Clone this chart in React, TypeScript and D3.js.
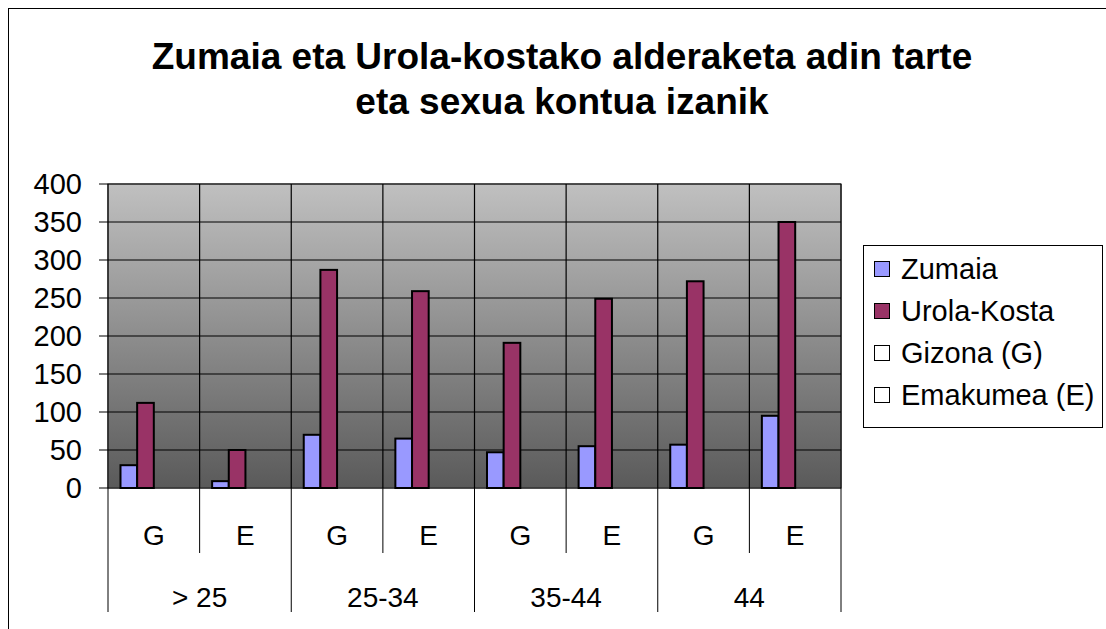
import React, { useRef, useEffect } from 'react';
import * as d3 from 'd3';

const sexes = ['G', 'E', 'G', 'E', 'G', 'E', 'G', 'E'];
const ageGroups = ['> 25', '25-34', '35-44', '44'];
const zumaia = [30, 9, 70, 65, 47, 55, 57, 95];
const urola = [112, 50, 287, 259, 191, 249, 272, 350];
const seriesNames = ['Zumaia', 'Urola-Kosta', 'Gizona (G)', 'Emakumea (E)'];
const seriesColors = ['#9999FF', '#993366', '#FFFFFF', '#FFFFFF'];
const yTicks = [0, 50, 100, 150, 200, 250, 300, 350, 400];

const App = () => {
  const ref = useRef(null);

  const left = 108, right = 841, top = 184, bottom = 488;

  useEffect(() => {
    const svg = d3.select(ref.current);
    svg.selectAll('*').remove();

    const defs = svg.append('defs');
    const grad = defs.append('linearGradient')
      .attr('id', 'bg').attr('x1', 0).attr('y1', 0).attr('x2', 0).attr('y2', 1);
    grad.append('stop').attr('offset', '0%').attr('stop-color', '#c0c0c0');
    grad.append('stop').attr('offset', '100%').attr('stop-color', '#5a5a5a');

    // chart border (only top/left visible)
    svg.append('rect')
      .attr('x', 8.5).attr('y', 8.5).attr('width', 1120).attr('height', 640)
      .attr('fill', 'white').attr('stroke', '#000');

    const idx = d3.range(sexes.length);
    const x = d3.scaleBand().domain(idx.map(String)).range([left, right]);
    const inner = d3.scaleBand().domain(seriesNames).range([0, x.bandwidth()])
      .paddingOuter(0.75);
    const y = d3.scaleLinear().domain([0, 400]).range([bottom, top]);

    // plot area
    svg.append('rect')
      .attr('x', left).attr('y', top).attr('width', right - left).attr('height', bottom - top)
      .attr('fill', 'url(#bg)').attr('stroke', '#808080').attr('stroke-width', 1.5);

    // horizontal gridlines
    svg.append('g').selectAll('line').data(yTicks.slice(1)).enter().append('line')
      .attr('x1', left).attr('x2', right)
      .attr('y1', d => y(d)).attr('y2', d => y(d))
      .attr('stroke', '#000').attr('stroke-width', 1.2);

    // vertical gridlines
    svg.append('g').selectAll('line').data(idx.slice(1)).enter().append('line')
      .attr('x1', d => x(String(d))).attr('x2', d => x(String(d)))
      .attr('y1', top).attr('y2', bottom)
      .attr('stroke', '#000').attr('stroke-width', 1.2);

    svg.append('line').attr('x1', right).attr('x2', right).attr('y1', top).attr('y2', bottom)
      .attr('stroke', '#000').attr('stroke-width', 1.2);

    // bars
    const values = [zumaia, urola];
    values.forEach((vals, s) => {
      svg.append('g').selectAll('rect').data(vals).enter().append('rect')
        .attr('x', (d, i) => x(String(i)) + inner(seriesNames[s]))
        .attr('width', inner.bandwidth())
        .attr('y', d => y(d))
        .attr('height', d => bottom - y(d))
        .attr('fill', seriesColors[s])
        .attr('stroke', '#000').attr('stroke-width', 2);
    });

    // y axis
    svg.append('line').attr('x1', left).attr('x2', left).attr('y1', top).attr('y2', bottom)
      .attr('stroke', '#000').attr('stroke-width', 1.2);
    const ya = svg.append('g');
    ya.selectAll('line').data(yTicks).enter().append('line')
      .attr('x1', left - 9).attr('x2', left)
      .attr('y1', d => y(d)).attr('y2', d => y(d))
      .attr('stroke', '#000');
    ya.selectAll('text').data(yTicks).enter().append('text')
      .attr('x', 82).attr('y', d => y(d)).attr('dy', '0.36em')
      .attr('text-anchor', 'end')
      .style('font-family', '"Liberation Sans", Arial, sans-serif').style('font-size', '29px')
      .text(d => d);

    // x axis
    svg.append('line').attr('x1', left).attr('x2', right).attr('y1', bottom).attr('y2', bottom)
      .attr('stroke', '#000').attr('stroke-width', 1.2);
    const xa = svg.append('g');
    xa.selectAll('line.inner').data(idx.filter(i => i % 2 === 1)).enter().append('line')
      .attr('x1', d => x(String(d))).attr('x2', d => x(String(d)))
      .attr('y1', bottom).attr('y2', 553).attr('stroke', '#000');
    const groupEdges = d3.range(ageGroups.length + 1).map(g => g * 2);
    xa.selectAll('line.outer').data(groupEdges).enter().append('line')
      .attr('x1', d => d < sexes.length ? x(String(d)) : right)
      .attr('x2', d => d < sexes.length ? x(String(d)) : right)
      .attr('y1', bottom).attr('y2', 612).attr('stroke', '#000');
    xa.selectAll('text.sex').data(sexes).enter().append('text')
      .attr('x', (d, i) => x(String(i)) + x.bandwidth() / 2).attr('y', 545)
      .attr('text-anchor', 'middle')
      .style('font-family', '"Liberation Sans", Arial, sans-serif').style('font-size', '28px')
      .text(d => d);
    xa.selectAll('text.grp').data(ageGroups).enter().append('text')
      .attr('x', (d, i) => x(String(i * 2 + 1))).attr('y', 607)
      .attr('text-anchor', 'middle')
      .style('font-family', '"Liberation Sans", Arial, sans-serif').style('font-size', '28px')
      .text(d => d);

    // title
    const title = svg.append('text').attr('text-anchor', 'middle')
      .style('font-family', '"Liberation Sans", Arial, sans-serif')
      .style('font-size', '37px').style('font-weight', 'bold');
    title.append('tspan').attr('x', 562).attr('y', 69).text('Zumaia eta Urola-kostako alderaketa adin tarte');
    title.append('tspan').attr('x', 562).attr('y', 114).text('eta sexua kontua izanik');

    // legend
    svg.append('rect').attr('x', 863.5).attr('y', 245.5).attr('width', 239).attr('height', 182)
      .attr('fill', '#fff').attr('stroke', '#000');
    const lg = svg.append('g').selectAll('g').data(seriesNames).enter().append('g')
      .attr('transform', (d, i) => `translate(874, ${269 + i * 42})`);
    lg.append('rect').attr('x', 0.5).attr('y', -7.5).attr('width', 15).attr('height', 15)
      .attr('fill', (d, i) => seriesColors[i]).attr('stroke', '#000');
    lg.append('text').attr('x', 27).attr('dy', '0.36em')
      .style('font-family', '"Liberation Sans", Arial, sans-serif').style('font-size', '29px')
      .text(d => d);
  }, []);

  return (
    <svg ref={ref} width={1106} height={629}
      style={{ position: 'absolute', left: 0, top: 0, background: '#fff' }} />
  );
};

export default App;
